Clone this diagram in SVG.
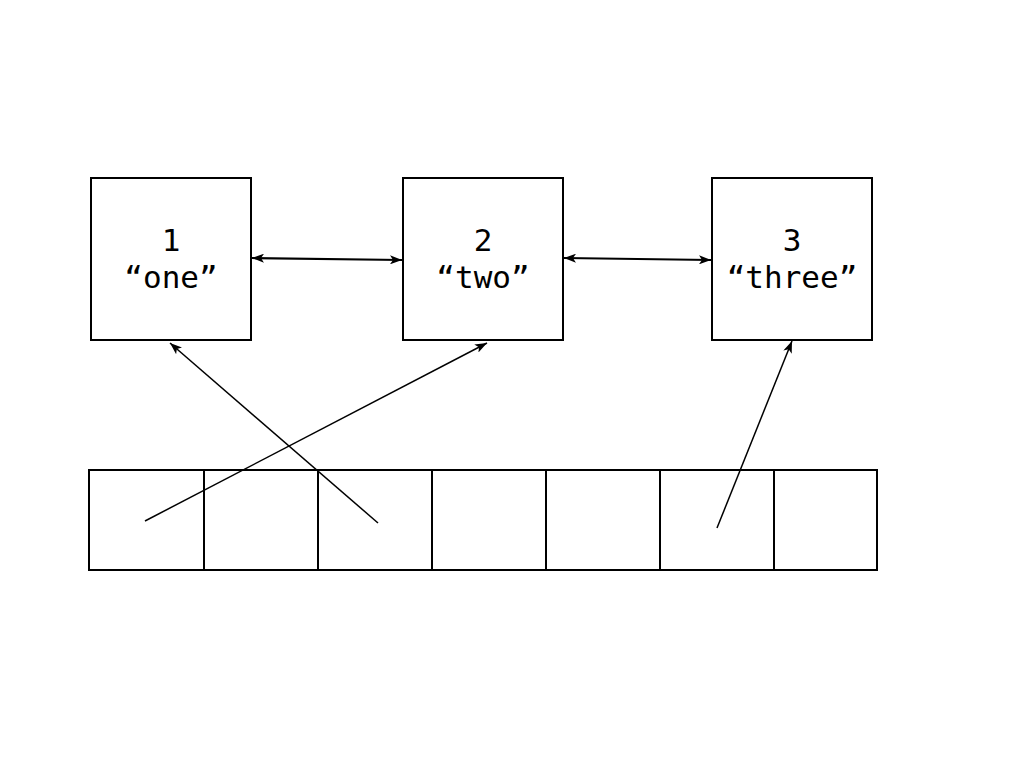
<svg xmlns="http://www.w3.org/2000/svg" width="1024" height="768" viewBox="0 0 1024 768">
<style>
.box{fill:#fff;stroke:#000;stroke-width:2}
.cell{fill:#fff;stroke:#000;stroke-width:2}
.lbl{font-family:"DejaVu Sans Mono","Liberation Mono",monospace;font-size:31px;fill:#000;text-anchor:middle}
.edge{stroke:#000;stroke-width:1.5;fill:none}
.dbl{stroke:#000;stroke-width:2.2;fill:none}
</style>
<defs>
<marker id="ah" viewBox="0 0 12 9" refX="12" refY="4.5" markerWidth="12" markerHeight="9" markerUnits="userSpaceOnUse" orient="auto-start-reverse">
<path d="M0,0 L12,4.5 L0,9 L3,4.5 Z" fill="#000"/>
</marker>
</defs>
<rect width="1024" height="768" fill="#fff"/>
<g id="node1"><rect class="box" x="91" y="178" width="160" height="162"/><text class="lbl" x="171" y="251">1</text><text class="lbl" x="171" y="288">“one”</text></g>
<g id="node2"><rect class="box" x="403" y="178" width="160" height="162"/><text class="lbl" x="483" y="251">2</text><text class="lbl" x="483" y="288">“two”</text></g>
<g id="node3"><rect class="box" x="712" y="178" width="160" height="162"/><text class="lbl" x="792" y="251">3</text><text class="lbl" x="792" y="288">“three”</text></g>
<g id="array">
<rect class="cell" x="89" y="470" width="115" height="100"/>
<rect class="cell" x="204" y="470" width="114" height="100"/>
<rect class="cell" x="318" y="470" width="114" height="100"/>
<rect class="cell" x="432" y="470" width="114" height="100"/>
<rect class="cell" x="546" y="470" width="114" height="100"/>
<rect class="cell" x="660" y="470" width="114" height="100"/>
<rect class="cell" x="774" y="470" width="103" height="100"/>
</g>
<g id="connectors">
<line class="dbl" x1="252" y1="258" x2="402" y2="260" marker-start="url(#ah)" marker-end="url(#ah)"/>
<line class="dbl" x1="564" y1="258" x2="711" y2="260" marker-start="url(#ah)" marker-end="url(#ah)"/>
<line class="edge" x1="145" y1="521" x2="487" y2="343" marker-end="url(#ah)"/>
<line class="edge" x1="378" y1="523" x2="170" y2="343" marker-end="url(#ah)"/>
<line class="edge" x1="717" y1="528" x2="792" y2="341" marker-end="url(#ah)"/>
</g>
</svg>
